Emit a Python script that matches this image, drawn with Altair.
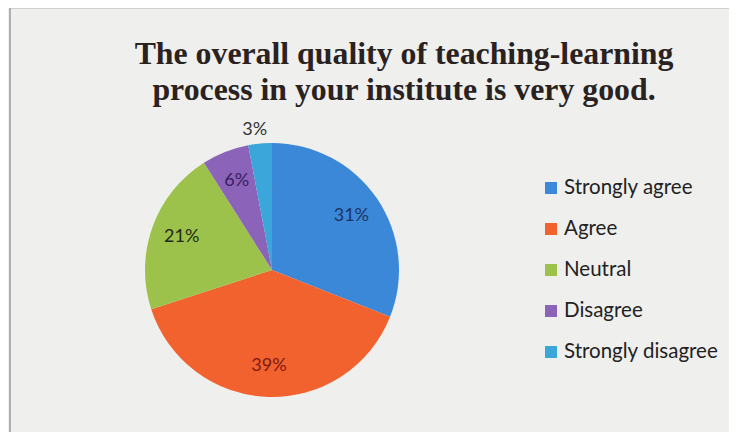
import altair as alt
import pandas as pd

categories = ["Strongly agree", "Agree", "Neutral", "Disagree", "Strongly disagree"]
values = [31, 39, 21, 6, 3]
labels = ["31%", "39%", "21%", "6%", "3%"]
slice_colors = ["#3b88d9", "#f2622f", "#9dc24b", "#8b63b8", "#3aa6d9"]
label_colors = ["#1d3566", "#7e1a12", "#1f2a12", "#3a2060", "#333333"]
title_lines = ["The overall quality of teaching-learning", "process in your institute is very good."]

df = pd.DataFrame({
    "category": categories,
    "value": values,
    "label": labels,
    "idx": list(range(len(categories))),
})

W, H = 721, 424
CX, CY, R = 264, 262, 127

base = alt.Chart(df)

pie = base.mark_arc(outerRadius=R).encode(
    theta=alt.Theta("value:Q", stack=True),
    order=alt.Order("idx:Q"),
    color=alt.Color("category:N", scale=alt.Scale(domain=categories, range=slice_colors), legend=None),
    x=alt.value(CX),
    y=alt.value(CY),
)

text_enc = dict(
    theta=alt.Theta("value:Q", stack=True),
    order=alt.Order("idx:Q"),
    x=alt.value(CX),
    y=alt.value(CY),
    color=alt.Color("category:N", scale=alt.Scale(domain=categories, range=label_colors), legend=None),
)

inner = base.mark_text(font="Lato", fontSize=18, radius=96, align="center", baseline="middle").encode(
    text=alt.condition("datum.value >= 5", alt.Text("label:N"), alt.value("")),
    **text_enc,
)
outer = base.mark_text(font="Lato", fontSize=18, radius=141, align="center", baseline="middle", dx=-4).encode(
    text=alt.condition("datum.value < 5", alt.Text("label:N"), alt.value("")),
    **text_enc,
)

leg_y = alt.Y("category:N", scale=alt.Scale(type="point", domain=categories, range=[180, 344], padding=0), axis=None)
leg_sq = base.mark_square(size=144, opacity=1).encode(
    x=alt.value(543),
    y=leg_y,
    color=alt.Color("category:N", scale=alt.Scale(domain=categories, range=slice_colors), legend=None),
)
leg_txt = base.mark_text(font="Lato", fontSize=20.5, align="left", baseline="middle", color="#222222").encode(
    x=alt.value(556),
    y=leg_y,
    text="category:N",
)

tdf = pd.DataFrame({"line": title_lines, "i": [0, 1]})
title = alt.Chart(tdf).mark_text(
    font="Liberation Serif", fontSize=31.8, fontWeight="bold", color="#2a2220", align="center", baseline="alphabetic"
).encode(
    x=alt.value(396),
    y=alt.Y("i:O", scale=alt.Scale(type="point", domain=[0, 1], range=[56, 92], padding=0), axis=None),
    text="line:N",
)

frame_df = pd.DataFrame({"a": [0]})
frame_left = alt.Chart(frame_df).mark_rule(color="#9a9a9a", strokeWidth=1.5).encode(
    x=alt.value(2), y=alt.value(0), y2=alt.value(H)
)
frame_top = alt.Chart(frame_df).mark_rule(color="#b0b0b0", strokeWidth=1).encode(
    x=alt.value(2), x2=alt.value(W), y=alt.value(0)
)

chart = alt.layer(frame_left, frame_top, pie, inner, outer, leg_sq, leg_txt, title).resolve_scale(
    color="independent", y="independent"
).properties(
    width=W, height=H, autosize=alt.AutoSizeParams(type="none"), padding=0, background="#efefed"
).configure_view(stroke=None)

chart.save("out.html", embed_options={"renderer": "svg", "actions": False})
